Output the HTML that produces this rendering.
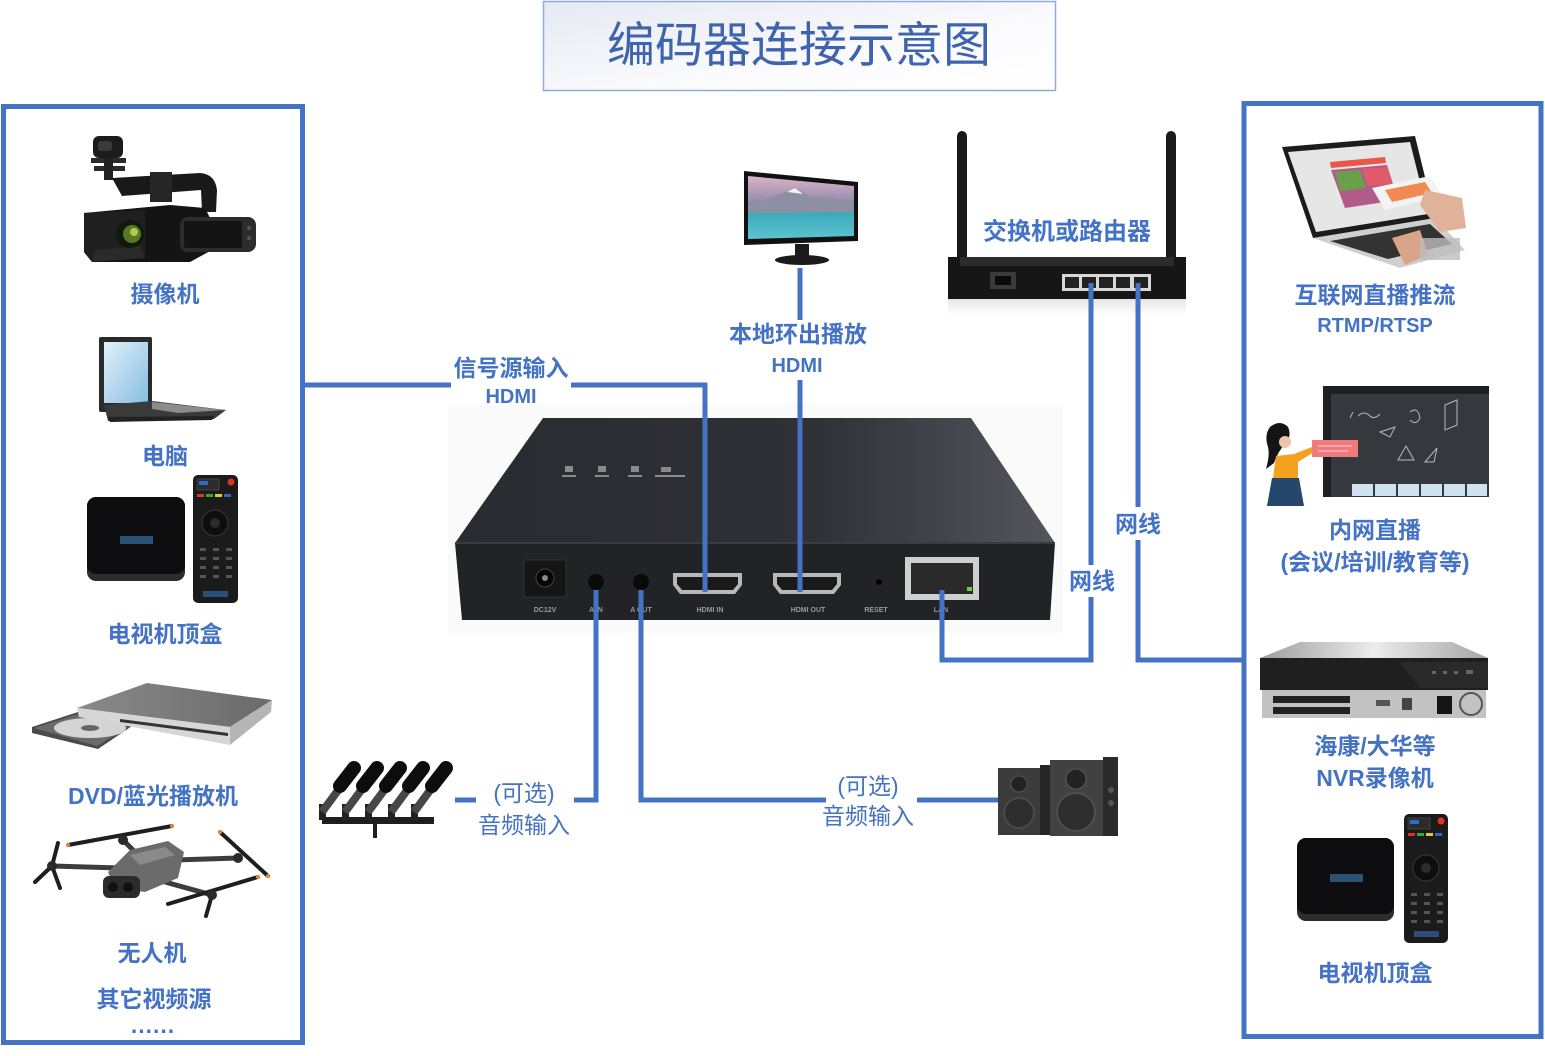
<!DOCTYPE html>
<html><head><meta charset="utf-8"><title>编码器连接示意图</title>
<style>
html,body{margin:0;padding:0;background:#fff;width:1545px;height:1056px;overflow:hidden}
svg{display:block}
.t{font-family:"Liberation Sans","Noto Sans CJK SC",sans-serif;fill:#4472C4;text-anchor:middle;dominant-baseline:central}
.b{font-weight:bold;font-size:23px}
.n{font-weight:normal;font-size:23px}
.e{font-weight:bold;font-size:20px}
.w{fill:none;stroke:#4472C4;stroke-width:5}
.tiny{font-family:"Liberation Sans",sans-serif;font-size:7px;font-weight:bold;fill:#9a9a9a;text-anchor:middle}
</style></head><body>
<svg width="1545" height="1056" viewBox="0 0 1545 1056" xmlns="http://www.w3.org/2000/svg">
<defs>
 <linearGradient id="tg" x1="0" y1="0" x2="1" y2="1">
  <stop offset="0" stop-color="#E6E9F3"/><stop offset="0.6" stop-color="#FBFBFD"/><stop offset="1" stop-color="#FFFFFF"/>
 </linearGradient>
 <linearGradient id="top" x1="0" y1="0" x2="1" y2="0">
  <stop offset="0" stop-color="#2a2b30"/><stop offset="0.6" stop-color="#303137"/><stop offset="1" stop-color="#55565d"/>
 </linearGradient>
 <linearGradient id="scr" x1="0" y1="0" x2="0" y2="1">
  <stop offset="0" stop-color="#d9b5c6"/><stop offset="0.3" stop-color="#a796b4"/><stop offset="0.48" stop-color="#7e8aa0"/><stop offset="0.56" stop-color="#3aa7b8"/><stop offset="1" stop-color="#5cc4d0"/>
 </linearGradient>
 <linearGradient id="lap" x1="0" y1="0" x2="1" y2="1">
  <stop offset="0" stop-color="#e2f1fa"/><stop offset="1" stop-color="#86bde2"/>
 </linearGradient>
 <linearGradient id="nvr" x1="0" y1="0" x2="1" y2="0">
  <stop offset="0" stop-color="#9c9c9c"/><stop offset="0.5" stop-color="#ececec"/><stop offset="1" stop-color="#a5a5a5"/>
 </linearGradient>
 <linearGradient id="dvd" x1="0" y1="0" x2="1" y2="0">
  <stop offset="0" stop-color="#8a8a8a"/><stop offset="1" stop-color="#6a6a6a"/>
 </linearGradient>
 <linearGradient id="refl" x1="0" y1="0" x2="0" y2="1">
  <stop offset="0" stop-color="#e6e6e6"/><stop offset="1" stop-color="#ffffff"/>
 </linearGradient>
</defs>

<!-- Title -->
<rect x="543.5" y="1.5" width="512" height="89" fill="url(#tg)" stroke="#8FAADC" stroke-width="1.5"/>
<text x="799" y="46" class="t" style="font-size:48px;fill:#3F64AE">编码器连接示意图</text>

<!-- Panels -->
<rect x="3.5" y="106.5" width="299" height="936" fill="none" stroke="#4472C4" stroke-width="5"/>
<rect x="1244" y="103.5" width="297" height="933" fill="none" stroke="#4472C4" stroke-width="5"/>

<!-- ========== LEFT PANEL IMAGES ========== -->
<!-- Camera -->
<g>
 <rect x="93" y="136" width="30" height="22" rx="6" fill="#1c1c1c"/>
 <rect x="98" y="141" width="14" height="10" rx="3" fill="#3a3a3a"/>
 <rect x="91" y="158" width="35" height="5" fill="#2a2a2a"/>
 <rect x="94" y="166" width="31" height="5" fill="#2a2a2a"/>
 <rect x="104" y="158" width="9" height="22" fill="#222"/>
 <path d="M112,178 L200,173 Q215,174 217,190 L216,212 L202,212 L201,190 L122,196 Z" fill="#191919"/>
 <rect x="150" y="172" width="22" height="30" fill="#262626"/>
 <path d="M84,213 L170,205 L205,208 L212,222 L212,250 L190,262 L92,262 L84,252 Z" fill="#141414"/>
 <path d="M84,213 L145,210 L145,258 L92,262 L84,252 Z" fill="#1f1f1f"/>
 <path d="M95,250 L140,246 L145,258 L92,262 Z" fill="#2a2a2a"/>
 <circle cx="130" cy="234" r="14" fill="#0f1a0c"/>
 <circle cx="132" cy="234" r="9" fill="#567a22"/>
 <circle cx="134" cy="232" r="4" fill="#b2c852"/>
 <rect x="180" y="217" width="76" height="35" rx="8" fill="#2c2c2c"/>
 <rect x="184" y="221" width="58" height="27" rx="2" fill="#141414"/>
 <circle cx="249" cy="228" r="2" fill="#555"/>
 <circle cx="249" cy="238" r="2" fill="#555"/>
</g>

<!-- Laptop left -->
<g>
 <rect x="99" y="337" width="53" height="75" rx="2" fill="#2a2a2a"/>
 <rect x="104" y="342" width="44" height="61" fill="url(#lap)"/>
 <path d="M104,405 L152,401 L226,410 L214,419 L108,421 Z" fill="#3a3a3a"/>
 <path d="M152,402 L226,410 L178,413 L152,409 Z" fill="#8c8c8c"/>
 <path d="M108,417 L214,416 L212,420 L110,422 Z" fill="#222"/>
</g>

<!-- STB left -->
<g>
 <rect x="87" y="497" width="98" height="84" rx="9" fill="#2c2c2c"/>
 <rect x="87" y="497" width="98" height="77" rx="9" fill="#0d0d10"/>
 <rect x="120" y="536" width="33" height="8" fill="#2a5272"/>
 <rect x="193" y="475" width="45" height="128" rx="5" fill="#1b1b1b"/>
 <rect x="197" y="479" width="22" height="11" fill="#2b2b2b" stroke="#555" stroke-width="0.6"/>
 <rect x="199" y="481" width="9" height="4" fill="#2f6bd0"/>
 <circle cx="231" cy="482" r="3.5" fill="#d32"/>
 <rect x="197" y="494" width="7" height="3" fill="#d33"/>
 <rect x="206" y="494" width="7" height="3" fill="#3a3"/>
 <rect x="215" y="494" width="7" height="3" fill="#dc3"/>
 <rect x="224" y="494" width="7" height="3" fill="#36c"/>
 <circle cx="215" cy="523" r="13" fill="#0e0e0e" stroke="#3a3a3a"/>
 <circle cx="215" cy="523" r="5" fill="#2c2c2c"/>
 <g fill="#555">
  <rect x="200" y="548" width="6" height="3"/><rect x="213" y="548" width="6" height="3"/><rect x="226" y="548" width="6" height="3"/>
  <rect x="200" y="557" width="6" height="3"/><rect x="213" y="557" width="6" height="3"/><rect x="226" y="557" width="6" height="3"/>
  <rect x="200" y="566" width="6" height="3"/><rect x="213" y="566" width="6" height="3"/><rect x="226" y="566" width="6" height="3"/>
  <rect x="200" y="575" width="6" height="3"/><rect x="213" y="575" width="6" height="3"/><rect x="226" y="575" width="6" height="3"/>
 </g>
 <rect x="203" y="591" width="25" height="6" fill="#2b4f7a"/>
</g>

<!-- DVD -->
<g>
 <path d="M32,727 L78,712 L132,726 L98,749 L32,733 Z" fill="#4a4a4a"/>
 <path d="M34,728 L78,714 L128,727 L97,746 Z" fill="#6a6a6a"/>
 <ellipse cx="90" cy="728" rx="36" ry="10" fill="#d4d4d4"/>
 <ellipse cx="90" cy="728" rx="9" ry="3" fill="#666"/>
 <path d="M77,708 L147,683 L272,700 L230,727 Z" fill="url(#dvd)"/>
 <path d="M77,708 L230,727 L230,745 L79,717 Z" fill="#d6d6d6"/>
 <path d="M120,719 L228,733 L228,736 L120,722 Z" fill="#333"/>
 <path d="M230,727 L272,700 L271,712 L230,745 Z" fill="#b5b5b5"/>
</g>

<!-- Drone -->
<g>
 <g stroke="#3c3c3c" stroke-width="5" stroke-linecap="round">
  <line x1="120" y1="868" x2="52" y2="866"/>
  <line x1="135" y1="852" x2="123" y2="840"/>
  <line x1="175" y1="860" x2="238" y2="858"/>
  <line x1="165" y1="882" x2="212" y2="895"/>
 </g>
 <g stroke="#1e1e1e" stroke-width="4" stroke-linecap="round">
  <line x1="68" y1="845" x2="172" y2="826"/>
  <line x1="220" y1="832" x2="268" y2="876"/>
  <line x1="168" y1="904" x2="258" y2="877"/>
  <line x1="212" y1="895" x2="206" y2="916"/>
  <line x1="52" y1="866" x2="58" y2="843"/>
  <line x1="52" y1="866" x2="35" y2="882"/>
  <line x1="52" y1="866" x2="60" y2="888"/>
 </g>
 <g fill="#2a2a2a"><circle cx="52" cy="866" r="5"/><circle cx="123" cy="840" r="5"/><circle cx="238" cy="858" r="5"/><circle cx="212" cy="895" r="5"/></g>
 <g fill="#e8873a"><circle cx="68" cy="845" r="2"/><circle cx="172" cy="826" r="2"/><circle cx="220" cy="832" r="2"/><circle cx="268" cy="876" r="2"/><circle cx="258" cy="877" r="2"/></g>
 <path d="M108,872 L130,850 L168,841 L184,852 L178,878 L145,892 L115,888 Z" fill="#6b6b6b"/>
 <path d="M130,855 L165,847 L175,855 L140,865 Z" fill="#8a8a8a"/>
 <rect x="103" y="876" width="37" height="22" rx="6" fill="#2b2b2b"/>
 <circle cx="113" cy="887" r="5" fill="#111"/>
 <circle cx="128" cy="887" r="5" fill="#111"/>
</g>

<!-- ========== CENTER ========== -->
<!-- Monitor -->
<g>
 <path d="M744,171 L858,182 L858,241 L744,245 Z" fill="#111"/>
 <path d="M748,176 L854,186 L854,236 L748,239 Z" fill="url(#scr)"/>
 <path d="M748,205 L775,196 L795,188 L812,197 L835,199 L854,204 L854,212 L748,213 Z" fill="#8d8fa3"/>
 <path d="M787,192 L795,188 L803,194 Z" fill="#f2f2f2"/>
 <rect x="795" y="244" width="14" height="14" fill="#1a1a1a"/>
 <ellipse cx="802" cy="260" rx="27" ry="5" fill="#1a1a1a"/>
</g>

<!-- Router -->
<g>
 <rect x="948" y="299" width="238" height="16" fill="url(#refl)"/>
 <rect x="957" y="131" width="10" height="162" rx="5" fill="#1a1a1a"/>
 <rect x="1166" y="131" width="10" height="162" rx="5" fill="#1a1a1a"/>
 <rect x="948" y="257" width="238" height="42" fill="#161616"/>
 <rect x="960" y="257" width="214" height="9" fill="#2c2c2c"/>
 <rect x="990" y="272" width="26" height="17" fill="#3a3a3a"/>
 <rect x="995" y="276" width="16" height="9" fill="#0a0a0a"/>
 <rect x="1062" y="274" width="89" height="17" fill="#d8d8d8"/>
 <g fill="#222">
  <rect x="1065" y="277" width="14" height="11"/><rect x="1082" y="277" width="14" height="11"/><rect x="1099" y="277" width="14" height="11"/><rect x="1116" y="277" width="14" height="11"/><rect x="1134" y="277" width="14" height="11"/>
 </g>
</g>

<!-- Encoder device -->
<g>
 <rect x="448" y="405" width="615" height="228" fill="#fafafb"/>
 <path d="M543,418 L971,418 L1055,543 L455,543 Z" fill="url(#top)"/>
 <path d="M455,543 L1055,543 L1050,620 L462,620 Z" fill="#222327"/>
 <line x1="455" y1="543" x2="1055" y2="543" stroke="#3b3c42" stroke-width="2"/>
 <g fill="#8a8a8a">
  <rect x="565" y="466" width="8" height="6"/><rect x="598" y="466" width="8" height="6"/><rect x="631" y="466" width="8" height="6"/><rect x="661" y="467" width="10" height="5"/>
  <rect x="562" y="475" width="14" height="2"/><rect x="595" y="475" width="14" height="2"/><rect x="628" y="475" width="14" height="2"/><rect x="655" y="475" width="30" height="2"/>
 </g>
 <rect x="524" y="560" width="42" height="37" fill="#151515" stroke="#333"/>
 <circle cx="545" cy="578" r="9" fill="#050505" stroke="#444"/>
 <circle cx="545" cy="578" r="3" fill="#888"/>
 <circle cx="596" cy="582" r="8" fill="#0a0a0a"/>
 <circle cx="641" cy="582" r="8" fill="#0a0a0a"/>
 <path d="M673,573 L742,573 L742,585 L735,594 L680,594 L673,585 Z" fill="#b8b8b8"/>
 <path d="M677,577 L738,577 L738,584 L733,590 L682,590 L677,584 Z" fill="#1a1a1a"/>
 <path d="M773,573 L841,573 L841,585 L834,594 L780,594 L773,585 Z" fill="#b8b8b8"/>
 <path d="M777,577 L837,577 L837,584 L832,590 L782,590 L777,584 Z" fill="#1a1a1a"/>
 <circle cx="879" cy="582" r="3" fill="#000"/>
 <rect x="905" y="557" width="74" height="43" fill="#cfcfcf"/>
 <rect x="911" y="563" width="62" height="31" fill="#2a2a2a"/>
 <rect x="967" y="587" width="5" height="4" fill="#7c3"/>
 <text x="545" y="612" class="tiny">DC12V</text>
 <text x="596" y="612" class="tiny">A IN</text>
 <text x="641" y="612" class="tiny">A OUT</text>
 <text x="710" y="612" class="tiny">HDMI IN</text>
 <text x="808" y="612" class="tiny">HDMI OUT</text>
 <text x="876" y="612" class="tiny">RESET</text>
 <text x="941" y="612" class="tiny">LAN</text>
</g>

<!-- Microphones -->
<g>
 <rect x="322" y="817" width="112" height="7" fill="#1e1e1e"/>
 <rect x="373" y="822" width="4" height="16" fill="#1e1e1e"/>
 <g id="mic">
  <rect x="319" y="804" width="7" height="16" fill="#222"/>
  <line x1="322" y1="812" x2="342" y2="785" stroke="#474747" stroke-width="8"/>
  <line x1="340" y1="786" x2="354" y2="768" stroke="#0d0d0d" stroke-width="14" stroke-linecap="round"/>
 </g>
 <use href="#mic" x="23"/>
 <use href="#mic" x="46"/>
 <use href="#mic" x="69"/>
 <use href="#mic" x="92"/>
</g>

<!-- Speakers -->
<g>
 <rect x="998" y="768" width="42" height="67" fill="#3b3b3b"/>
 <rect x="1040" y="765" width="10" height="70" fill="#262626"/>
 <circle cx="1019" cy="784" r="8" fill="#222" stroke="#555"/>
 <circle cx="1019" cy="813" r="15" fill="#2d2d2d" stroke="#4a4a4a" stroke-width="2"/>
 <rect x="1050" y="760" width="53" height="76" fill="#414141"/>
 <rect x="1103" y="757" width="15" height="79" fill="#2a2a2a"/>
 <circle cx="1076" cy="779" r="10" fill="#222" stroke="#5a5a5a"/>
 <circle cx="1076" cy="812" r="19" fill="#2e2e2e" stroke="#4e4e4e" stroke-width="2"/>
 <circle cx="1111" cy="790" r="3" fill="#555"/>
 <circle cx="1111" cy="803" r="3" fill="#555"/>
</g>

<!-- ========== RIGHT PANEL IMAGES ========== -->
<!-- Laptop with hand -->
<g>
 <path d="M1313,238 L1435,218 L1465,250 L1400,268 Z" fill="#cfcfcf"/>
 <path d="M1330,241 L1430,224 L1452,244 L1388,259 Z" fill="#333"/>
 <path d="M1282,147 L1415,136 L1435,218 L1313,238 Z" fill="#1c1c1c"/>
 <path d="M1288,152 L1410,142 L1428,214 L1316,232 Z" fill="#e6e6e6"/>
 <path d="M1330,162 L1385,157 L1386,163 L1331,168 Z" fill="#e8574a"/>
 <path d="M1331,170 L1387,165 L1398,200 L1345,208 Z" fill="#b25a8a"/>
 <path d="M1335,172 L1360,170 L1366,188 L1340,191 Z" fill="#6aa04a"/>
 <path d="M1362,169 L1387,167 L1392,184 L1368,186 Z" fill="#e05a6a"/>
 <path d="M1372,188 L1430,176 L1442,196 L1385,210 Z" fill="#f3f3f3"/>
 <path d="M1385,190 L1425,182 L1432,193 L1392,202 Z" fill="#f08a50"/>
 <path d="M1425,190 L1462,198 L1466,228 L1440,232 L1420,205 Z" fill="#e0b29a"/>
 <path d="M1392,238 L1420,230 L1428,255 L1405,265 Z" fill="#d9a58a"/>
 <rect x="1420" y="238" width="40" height="22" fill="#bdbdbd" opacity="0.8"/>
</g>

<!-- Smartboard + woman -->
<g>
 <rect x="1323" y="386" width="166" height="111" fill="#35383c"/>
 <rect x="1323" y="386" width="166" height="8" fill="#1d1f22"/>
 <rect x="1323" y="394" width="8" height="103" fill="#1d1f22"/>
 <g fill="#cfe2ef">
  <rect x="1352" y="484" width="21" height="12"/><rect x="1375" y="484" width="21" height="12"/><rect x="1398" y="484" width="21" height="12"/><rect x="1421" y="484" width="21" height="12"/><rect x="1444" y="484" width="21" height="12"/><rect x="1467" y="484" width="20" height="12"/>
 </g>
 <g fill="none" stroke="#d8d8d8" stroke-width="1" opacity="0.8">
  <path d="M1350,418 l3,-6 M1358,416 q6,-6 12,0 q4,4 10,-2"/>
  <path d="M1380,432 l15,-5 l-5,10 z"/>
  <path d="M1410,412 q8,-6 10,6 q-4,8 -10,2"/>
  <path d="M1445,405 l0,25 l12,-5 l0,-25 z M1445,405 l12,-5"/>
  <path d="M1398,460 l8,-14 l8,14 z"/>
  <path d="M1425,462 l12,-14 l-3,14 z"/>
 </g>
 <path d="M1270,427 q10,-8 18,0 q4,8 -2,16 q-8,8 -12,20 l-8,6 q4,-14 2,-22 q-4,-12 2,-20 z" fill="#141414"/>
 <circle cx="1285" cy="442" r="6" fill="#f0c4a8"/>
 <path d="M1276,456 L1294,454 L1312,447 L1314,452 L1298,462 L1298,478 L1273,478 Z" fill="#f4a21e"/>
 <path d="M1272,478 L1299,478 L1304,506 L1267,506 Z" fill="#24476b"/>
 <rect x="1312" y="440" width="46" height="17" fill="#f07a7a"/>
 <path d="M1318,446 h34 M1318,451 h30" stroke="#fbd" stroke-width="1.2"/>
</g>

<!-- NVR -->
<g>
 <path d="M1300,642 L1452,642 L1488,658 L1260,658 Z" fill="url(#nvr)"/>
 <rect x="1260" y="658" width="228" height="32" fill="#1f1f1f"/>
 <path d="M1400,662 L1488,662 L1488,688 L1420,688 Z" fill="#2a2a2a"/>
 <g fill="#666"><rect x="1432" y="671" width="4" height="3"/><rect x="1443" y="671" width="4" height="3"/><rect x="1454" y="671" width="4" height="3"/><rect x="1466" y="670" width="7" height="4"/></g>
 <rect x="1262" y="690" width="224" height="28" fill="#c2c2c2"/>
 <g fill="#222">
  <rect x="1273" y="696" width="77" height="7"/><rect x="1273" y="707" width="77" height="7"/>
 </g>
 <rect x="1376" y="700" width="14" height="6" fill="#555"/>
 <rect x="1402" y="698" width="10" height="12" fill="#444"/>
 <rect x="1437" y="696" width="15" height="18" fill="#151515"/>
 <circle cx="1471" cy="704" r="11" fill="none" stroke="#555" stroke-width="2"/>
</g>

<!-- STB right -->
<g>
 <rect x="1297" y="838" width="97" height="83" rx="9" fill="#2c2c2c"/>
 <rect x="1297" y="838" width="97" height="76" rx="9" fill="#0d0d10"/>
 <rect x="1330" y="874" width="33" height="8" fill="#2a5272"/>
 <rect x="1404" y="814" width="44" height="129" rx="5" fill="#1b1b1b"/>
 <rect x="1408" y="818" width="22" height="11" fill="#2b2b2b" stroke="#555" stroke-width="0.6"/>
 <rect x="1410" y="820" width="9" height="4" fill="#2f6bd0"/>
 <circle cx="1441" cy="821" r="3.5" fill="#d32"/>
 <rect x="1408" y="833" width="7" height="3" fill="#d33"/>
 <rect x="1417" y="833" width="7" height="3" fill="#3a3"/>
 <rect x="1426" y="833" width="7" height="3" fill="#dc3"/>
 <rect x="1435" y="833" width="7" height="3" fill="#36c"/>
 <circle cx="1426" cy="868" r="13" fill="#0e0e0e" stroke="#3a3a3a"/>
 <circle cx="1426" cy="868" r="5" fill="#2c2c2c"/>
 <g fill="#555">
  <rect x="1411" y="893" width="6" height="3"/><rect x="1424" y="893" width="6" height="3"/><rect x="1437" y="893" width="6" height="3"/>
  <rect x="1411" y="902" width="6" height="3"/><rect x="1424" y="902" width="6" height="3"/><rect x="1437" y="902" width="6" height="3"/>
  <rect x="1411" y="911" width="6" height="3"/><rect x="1424" y="911" width="6" height="3"/><rect x="1437" y="911" width="6" height="3"/>
  <rect x="1411" y="920" width="6" height="3"/><rect x="1424" y="920" width="6" height="3"/><rect x="1437" y="920" width="6" height="3"/>
 </g>
 <rect x="1414" y="931" width="25" height="6" fill="#2b4f7a"/>
</g>

<!-- ========== CONNECTORS ========== -->
<path class="w" d="M303,385 H451"/>
<path class="w" d="M571,385 H705 V592"/>
<path class="w" d="M800,268 V320"/>
<path class="w" d="M800,380 V592"/>
<path class="w" d="M1091,283 V565"/>
<path class="w" d="M1091,597 V660 H942 V590"/>
<path class="w" d="M1138,283 V507"/>
<path class="w" d="M1138,540 V660 H1244"/>
<path class="w" d="M596,590 V800 H574"/>
<path class="w" d="M455,800 H476"/>
<path class="w" d="M641,590 V800 H826"/>
<path class="w" d="M917,800 H998"/>

<!-- ========== LABELS ========== -->
<text x="165" y="294" class="t b">摄像机</text>
<text x="165" y="456" class="t b">电脑</text>
<text x="165" y="634" class="t b">电视机顶盒</text>
<text x="153" y="796" class="t b">DVD/蓝光播放机</text>
<text x="152" y="953" class="t b">无人机</text>
<text x="154" y="999" class="t b">其它视频源</text>
<text x="153" y="1033" class="t b" style="dominant-baseline:auto;letter-spacing:1px">......</text>

<text x="511" y="368" class="t b">信号源输入</text>
<text x="511" y="397" class="t e">HDMI</text>
<text x="798" y="334" class="t b">本地环出播放</text>
<text x="797" y="366" class="t e">HDMI</text>
<text x="1067" y="232" class="t b" style="font-size:24px">交换机或路由器</text>
<text x="1092" y="581" class="t b">网线</text>
<text x="1138" y="524" class="t b">网线</text>

<text x="524" y="793" class="t n">(可选)</text>
<text x="524" y="825" class="t n">音频输入</text>
<text x="868" y="786" class="t n">(可选)</text>
<text x="868" y="816" class="t n">音频输入</text>

<text x="1375" y="295" class="t b">互联网直播推流</text>
<text x="1375" y="326" class="t e">RTMP/RTSP</text>
<text x="1375" y="530" class="t b">内网直播</text>
<text x="1375" y="562" class="t b">(会议/培训/教育等)</text>
<text x="1375" y="746" class="t b">海康/大华等</text>
<text x="1375" y="778" class="t b">NVR录像机</text>
<text x="1375" y="973" class="t b">电视机顶盒</text>
</svg>
</body></html>
